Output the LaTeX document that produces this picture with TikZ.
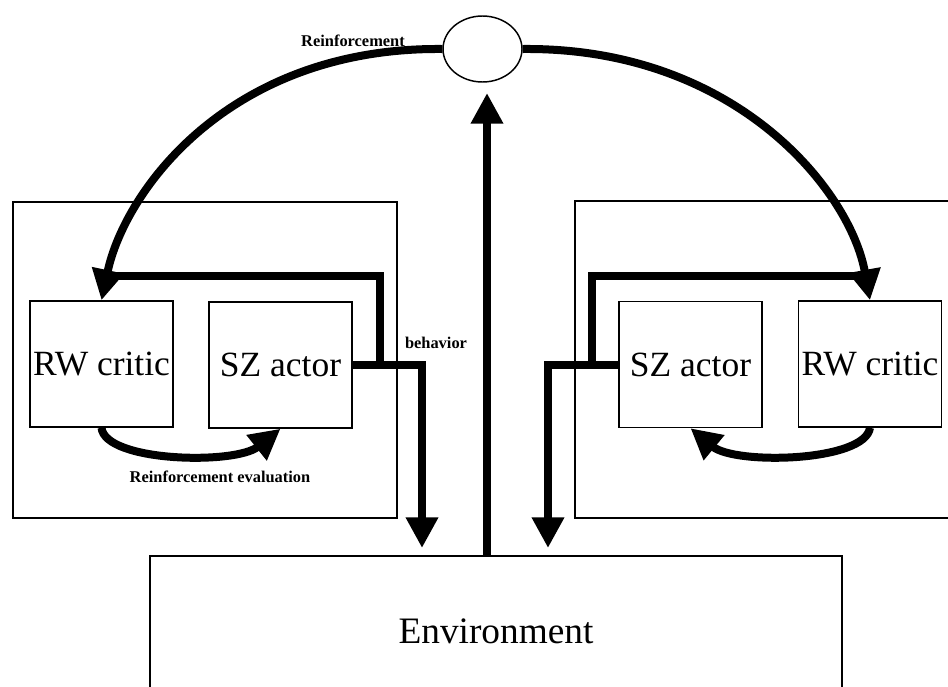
\documentclass[tikz,border=0pt]{standalone}
\usepackage{fontspec}
\setmainfont{Liberation Serif}
\usetikzlibrary{arrows.meta,shapes.geometric}
\begin{document}
\begin{tikzpicture}[x=0.75pt,y=-0.75pt,
  thinline/.style={draw=black,line width=1.1pt},
  block/.style={thinline,rectangle,minimum width=107.25pt,minimum height=94.5pt,inner sep=0pt,
    font=\fontsize{26.6}{30}\selectfont},
  thickline/.style={line width=6pt,line join=miter},
  thickarrow/.style={thickline,-{Triangle[length=23pt,width=23pt]}},
  smalllabel/.style={inner sep=0pt,font=\fontsize{12.3}{14}\selectfont\bfseries}]
\useasboundingbox (0,0) rectangle (948,686);
\clip (0,0) rectangle (948,686);

% outer boxes
\draw[thinline] (13,202) rectangle (397,518);
\draw[thinline] (575,201) rectangle (960,518);

% environment
\node[thinline,rectangle,minimum width=519pt,minimum height=112.5pt,inner sep=0pt,
  font=\fontsize{28}{32}\selectfont] (env) at (496,631) {Environment};

% blocks
\node[block] (lc) at (101.5,364) {RW critic};
\node[block] (la) at (280.5,365) {SZ actor};
\node[block] (ra) at (690.5,364.5) {SZ actor};
\node[block] (rc) at (870,364) {RW critic};

% comparator
\node[ellipse,thinline,minimum width=59.25pt,minimum height=49.5pt,inner sep=0pt] (sum) at (482.5,49) {};

% coordinates
\coordinate (envtop) at (487,556);
\coordinate (sumin) at (487,93);
\coordinate (lout) at (422,548);
\coordinate (rout) at (548,548);
\coordinate (lbr) at (380,365);
\coordinate (rbr) at (592,365);
\coordinate (lcin) at (110,276);
\coordinate (rcin) at (862,276);

% reinforcement arcs
\draw[thickarrow] (sum.west) .. controls (230,47) and (125,190) .. (lc.north);
\draw[thickarrow] (sum.east) .. controls (735,47) and (850,190) .. (rc.north);

% environment to comparator
\draw[thickarrow] (envtop) -- (sumin);

% behavior outputs
\draw[thickarrow] (la.east) -| (lout);
\draw[thickline] (lbr) |- (lcin);
\draw[thickarrow] (ra.west) -| (rout);
\draw[thickline] (rbr) |- (rcin);

% reinforcement evaluation
\draw[thickarrow] (lc.south) .. controls (105,462) and (235,465) .. (la.south);
\draw[thickarrow] (rc.south) .. controls (865,462) and (735,465) .. (ra.south);

% labels
\node[smalllabel] (lrein) at (353,41) {Reinforcement};
\node[smalllabel] (lbeh) at (436,343) {behavior};
\node[smalllabel] (leval) at (220,477) {Reinforcement evaluation};
\end{tikzpicture}
\end{document}
